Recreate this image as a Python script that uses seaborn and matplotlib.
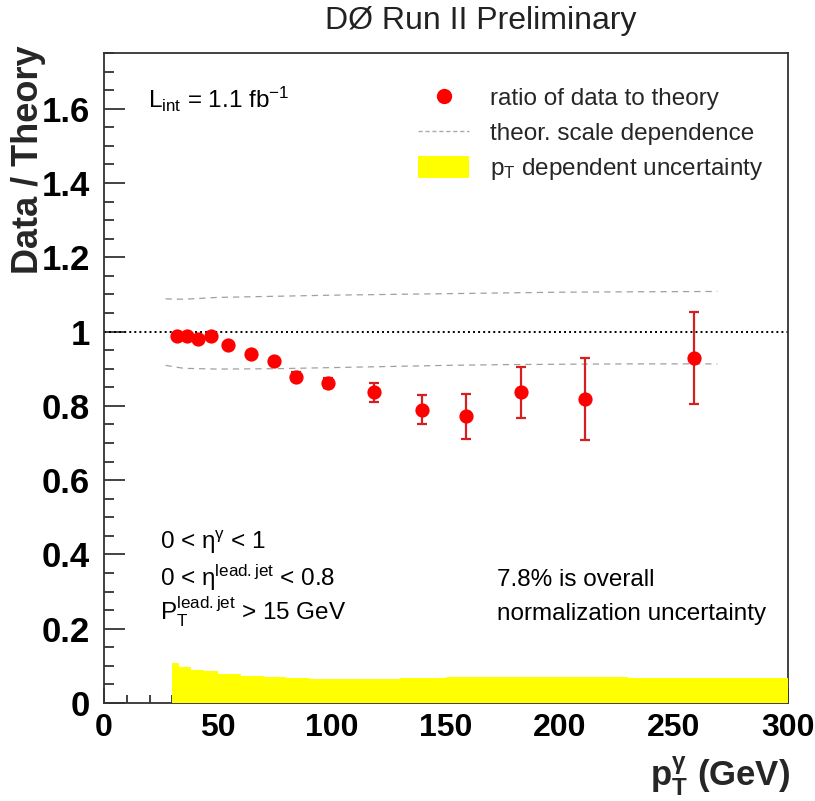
import matplotlib
matplotlib.use("Agg")
import matplotlib.pyplot as plt
from matplotlib.lines import Line2D
from matplotlib.patches import Patch
from matplotlib.ticker import MultipleLocator, FuncFormatter
import seaborn as sns

# Photon pT bin positions (GeV) and measured data/theory ratio
pt = [31.9, 36.3, 41.4, 46.8, 54.3, 64.5, 74.4, 84.3, 98.4, 118.4, 139.3, 158.8, 182.8, 210.8, 258.9]
ratio = [0.987, 0.987, 0.981, 0.988, 0.963, 0.939, 0.921, 0.879, 0.862, 0.836, 0.790, 0.772, 0.836, 0.818, 0.928]
ratio_err = [0.006, 0.006, 0.006, 0.007, 0.007, 0.008, 0.009, 0.011, 0.014, 0.026, 0.040, 0.060, 0.068, 0.110, 0.124]

# Theoretical scale variation envelope
scale_pt = [27, 35, 50, 75, 100, 125, 150, 175, 200, 230, 269]
scale_up = [1.088, 1.087, 1.092, 1.095, 1.098, 1.100, 1.102, 1.104, 1.106, 1.107, 1.108]
scale_down = [0.909, 0.901, 0.899, 0.900, 0.903, 0.906, 0.909, 0.911, 0.912, 0.913, 0.913]

# pT-dependent systematic uncertainty (histogram)
unc_edges = [30, 33, 38, 44, 50, 60, 70, 80, 90, 110, 130, 150, 175, 200, 230, 300]
unc_height = [0.108, 0.097, 0.090, 0.085, 0.079, 0.074, 0.070, 0.067, 0.065, 0.064,
              0.066, 0.069, 0.070, 0.070, 0.066]

legend_labels = ["ratio of data to theory", "theor. scale dependence",
                 r"p$_{\mathrm{T}}$ dependent uncertainty"]

sns.set_theme(style="white")
plt.rcParams["font.family"] = ["Liberation Sans", "DejaVu Sans"]
plt.rcParams["mathtext.fontset"] = "custom"
plt.rcParams["mathtext.rm"] = "Liberation Sans"
plt.rcParams["mathtext.it"] = "Liberation Sans:italic"
plt.rcParams["mathtext.bf"] = "Liberation Sans:bold"

W, H = 815, 801
fig = plt.figure(figsize=(W / 100, H / 100), dpi=100)
ax = fig.add_axes([104 / W, 1 - 703 / H, 684 / W, 650 / H])

centers = [(a + b) / 2 for a, b in zip(unc_edges[:-1], unc_edges[1:])]
sns.histplot(x=centers, weights=unc_height, bins=unc_edges, element="step", fill=True,
             color="#ffff00", alpha=1, linewidth=0, ax=ax, zorder=3)

ax.axhline(1.0, color="black", linestyle=(0, (1, 1.6)), linewidth=1.4, zorder=2)

for ys in (scale_up, scale_down):
    sns.lineplot(x=scale_pt, y=ys, color="#a0a0a0", linewidth=0.9,
                 linestyle=(0, (5, 4)), ax=ax, zorder=2)

ax.errorbar(pt, ratio, yerr=ratio_err, fmt="none", ecolor="#d42020", elinewidth=1.6,
            capsize=3.5, capthick=1.6, zorder=4)
sns.scatterplot(x=pt, y=ratio, s=105, color="#ff0000", edgecolor="#ff0000",
                linewidth=0, zorder=5, ax=ax)

ax.set_xlim(0, 300)
ax.set_ylim(0, 1.75)
ax.set_xlabel("")
ax.set_ylabel("")

ax.xaxis.set_major_locator(MultipleLocator(50))
ax.xaxis.set_minor_locator(MultipleLocator(10))
ax.yaxis.set_major_locator(MultipleLocator(0.2))
ax.yaxis.set_minor_locator(MultipleLocator(0.05))
fmt = FuncFormatter(lambda v, _: f"{round(v, 3):g}")
ax.xaxis.set_major_formatter(fmt)
ax.yaxis.set_major_formatter(fmt)

ax.tick_params(which="both", direction="in", top=False, right=False, bottom=True,
               left=True, colors="#222222", width=1.2)
ax.tick_params(axis="y", which="major", length=15, pad=10)
ax.tick_params(axis="y", which="minor", length=7.5)
ax.tick_params(axis="x", which="major", length=11, pad=7)
ax.tick_params(axis="x", which="minor", length=6)
for lab in ax.get_xticklabels():
    lab.set_fontsize(23)
    lab.set_fontweight("bold")
    lab.set_color("black")
for lab in ax.get_yticklabels():
    lab.set_fontsize(25)
    lab.set_fontweight("bold")
    lab.set_color("black")

for sp in ax.spines.values():
    sp.set_color("#333333")
    sp.set_linewidth(1.3)
    sp.set_zorder(2.5)

handles = [
    Line2D([], [], marker="o", linestyle="none", color="#ff0000", markersize=10),
    Line2D([], [], linestyle=(0, (3, 2)), color="#aaaaaa", linewidth=1.0),
    Patch(facecolor="#ffff00", edgecolor="none"),
]
ax.legend(handles, legend_labels, loc="upper left",
          bbox_to_anchor=((418 - 104) / 684, (703 - 86) / 650), frameon=False,
          fontsize=17.5, handlelength=2.1, handleheight=1.0, handletextpad=0.85,
          labelspacing=0.45, borderpad=0, borderaxespad=0)


def ax_xy(xp, yp):
    return (xp - 104) / 684, (703 - yp) / 650


tkw = dict(transform=ax.transAxes, fontsize=17.5, va="baseline", ha="left", color="black")
ax.text(*ax_xy(148, 108), r"L$_{\mathrm{int}}$ = 1.1 fb$^{\mathrm{-1}}$", **tkw)
ax.text(*ax_xy(160, 549), r"0 < η$^{\mathrm{γ}}$ < 1", **tkw)
ax.text(*ax_xy(160, 586), r"0 < η$^{\mathrm{lead.jet}}$ < 0.8", **tkw)
ax.text(*ax_xy(160, 620), r"P$_{\mathrm{T}}^{\mathrm{lead.jet}}$ > 15 GeV", **tkw)
ax.text(*ax_xy(497, 586), "7.8% is overall", **tkw)
ax.text(*ax_xy(497, 620), "normalization uncertainty", **tkw)

fig.text(481 / W, 1 - 29 / H, "DØ Run II Preliminary", ha="center", va="baseline",
         fontsize=23, color="#222222")
fig.text(28 / W, 1 - 45 / H, "Data / Theory", rotation=90, ha="center", va="top",
         fontsize=26, fontweight="bold")
fig.text(790 / W, 1 - 787 / H, r"$\mathbf{p}_{\mathbf{T}}^{\mathbf{γ}}$ (GeV)",
         ha="right", va="baseline", fontsize=25, fontweight="bold")

fig.savefig("out.png", dpi=100)
